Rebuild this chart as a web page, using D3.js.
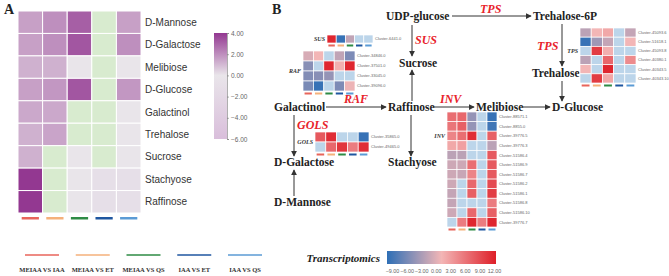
<!DOCTYPE html>
<html>
<head>
<meta charset="utf-8">
<script src="https://cdn.jsdelivr.net/npm/d3@7"></script>
<style>
  body { margin: 0; background: #fff; }
  svg { display: block; }
</style>
</head>
<body>
<svg id="chart"></svg>
<script>
const width = 669;
const height = 276;

// comparison groups (columns of every heatmap)
const groups = ['MEIAA VS IAA', 'MEIAA VS ET', 'MEIAA VS QS', 'IAA VS ET', 'IAA VS QS'];
const groupColors = ['#e8655b', '#f5b17b', '#2e8b45', '#1f56a0', '#5b9bd5'];

// panel A - metabolites
const metabolites = ['D-Mannose', 'D-Galactose', 'Melibiose', 'D-Glucose', 'Galactinol', 'Trehalose', 'Sucrose', 'Stachyose', 'Raffinose'];
const metaboValues = [
    [1.6, 2.0, 3.1, null, 1.6],
    [1.6, 2.0, 3.3, null, 2.0],
    [1.2, 1.2, 0, null, 0],
    [1.6, 1.8, 3.3, null, 1.8],
    [1.4, 1.4, null, null, 0],
    [1.2, 1.5, null, null, 0],
    [1.2, null, 0, null, 0],
    [4.0, null, 0, -1, -1],
    [4.0, null, 0, -1, -1]
];
const metaboTicks = [4, 2, 0, -2, -4, -6];

// panel B - transcript clusters
const susRows = ['Cluster-6441.0'];
const susValues = [[11.5, -8.5, -1.2, null, null]];

const rafRows = ['Cluster-34846.0', 'Cluster-37501.0', 'Cluster-33045.0', 'Cluster-39096.0'];
const rafValues = [
    [0, 1.5, null, -1.2, -4.8],
    [-4.2, null, 11.5, 2, 11.5],
    [-4.5, -4.2, -3.5, null, null],
    [-5, -8.5, null, -4.8, 1.2]
];

const golsRows = ['Cluster-35865.0', 'Cluster-49465.0'];
const golsValues = [
    [8, 11, null, null, -8.5],
    [null, 7, 10.5, 5.5, 11]
];

const tpsRows = ['Cluster-45093.6', 'Cluster-51618.1', 'Cluster-45093.8', 'Cluster-40380.1', 'Cluster-40343.5', 'Cluster-40343.10'];
const tpsValues = [
    [-1.5, 1.5, 2.5, null, -1],
    [-8.5, -3, -1, null, 1.5],
    [null, 10, 2, null, null],
    [-1.5, null, 7, null, 4.5],
    [1.5, null, 11.5, null, null],
    [null, 10, 2.5, null, null]
];

const invRows = ['Cluster-88571.1', 'Cluster-8855.0', 'Cluster-39776.5', 'Cluster-39776.3', 'Cluster-51586.4', 'Cluster-51586.9',
    'Cluster-51586.7', 'Cluster-51586.2', 'Cluster-51586.1', 'Cluster-51586.8', 'Cluster-51586.10', 'Cluster-39776.7'];
const invValues = [
    [6.5, 7, -3.5, null, -8.5],
    [6, 7.5, -3.5, null, -8],
    [5, 6.5, 11, null, 7.5],
    [2.5, 3, null, null, -1.5],
    [-1.5, -1.5, null, null, 8],
    [-0.5, -0.5, 6.5, null, 8],
    [-0.5, -0.8, 5, null, 8],
    [-0.5, null, 7, null, 9],
    [-1, null, 7.5, null, 10],
    [-1, null, null, null, 5.5],
    [-0.5, null, 7, null, 7.5],
    [null, 5.5, 11.5, 5.5, 11.5]
];
const transTicks = [-9, -6, -3, 0, 3, 6, 9, 12];

const svg = d3.select('#chart').attr('width', width).attr('height', height);

const serif = 'Liberation Serif, Times New Roman, serif';
const sans = 'Liberation Sans, Arial, sans-serif';

const metaboColor = d3.scaleLinear().domain([-6, 0, 4]).range(['#d9bedb', '#e9e5ea', '#933891']);
const transColor = d3.scaleLinear().domain([-9, 1.5, 12]).range(['#2e6fb6', '#f3b6b6', '#de1f28']);

// generic heatmap with column colour bars under it
function heatmap(opts) {
    const g = svg.append('g');
    const x = d3.scaleBand().domain(groups).range([opts.x0, opts.x1]);
    const y = d3.scaleBand().domain(opts.rows).range([opts.y0, opts.y1]);
    const cells = [];
    opts.values.forEach((row, i) => row.forEach((v, j) => cells.push({ r: opts.rows[i], c: groups[j], v })));

    g.selectAll('rect.cell')
        .data(cells)
        .enter()
        .append('rect')
        .attr('class', 'cell')
        .attr('x', d => x(d.c))
        .attr('y', d => y(d.r))
        .attr('width', x.bandwidth())
        .attr('height', y.bandwidth())
        .attr('fill', d => d.v === null ? opts.na : opts.color(d.v))
        .attr('stroke', '#fff')
        .attr('stroke-width', opts.stroke || 0.7);

    g.selectAll('rect.bar')
        .data(groups)
        .enter()
        .append('rect')
        .attr('class', 'bar')
        .attr('x', d => x(d) + x.bandwidth() * 0.15)
        .attr('y', opts.y1 + opts.barGap)
        .attr('width', x.bandwidth() * 0.7)
        .attr('height', opts.barH)
        .attr('fill', (d, i) => groupColors[i]);

    g.selectAll('text.lab')
        .data(opts.rows)
        .enter()
        .append('text')
        .attr('class', 'lab')
        .attr('x', opts.x1 + opts.labGap)
        .attr('y', d => y(d) + y.bandwidth() / 2)
        .attr('dy', '0.35em')
        .attr('font-family', sans)
        .attr('font-size', opts.labSize)
        .attr('fill', opts.labColor || '#666')
        .text(d => d);

    if (opts.name) {
        const nameRow = opts.nameRow === undefined ? null : opts.rows[opts.nameRow];
        g.append('text')
            .attr('x', opts.x0 - 2)
            .attr('y', nameRow ? y(nameRow) + y.bandwidth() / 2 : (opts.y0 + opts.y1) / 2)
            .attr('dy', '0.35em')
            .attr('text-anchor', 'end')
            .attr('font-family', serif)
            .attr('font-style', 'italic')
            .attr('font-weight', 'bold')
            .attr('font-size', 6)
            .attr('fill', '#333')
            .text(opts.name);
    }
    return g;
}

// ---------- Panel A ----------
svg.append('text').attr('x', 4).attr('y', 14)
    .attr('font-family', serif).attr('font-weight', 'bold').attr('font-size', 14).attr('fill', '#222').text('A');

heatmap({
    rows: metabolites, values: metaboValues, color: metaboColor, na: '#d8ebcf',
    x0: 18, x1: 141, y0: 11, y1: 213, stroke: 1,
    barGap: 4, barH: 2.5, labGap: 4, labSize: 10, labColor: '#333'
});

// colour bar A
const defs = svg.append('defs');
const gradA = defs.append('linearGradient').attr('id', 'gradA').attr('x1', 0).attr('x2', 0).attr('y1', 1).attr('y2', 0);
metaboColor.domain().forEach(v => {
    gradA.append('stop').attr('offset', (v + 6) / 10).attr('stop-color', metaboColor(v));
});
const cbA = d3.scaleLinear().domain([-6, 4]).range([139, 33]);
svg.append('rect').attr('x', 214).attr('y', cbA(4)).attr('width', 13).attr('height', cbA(-6) - cbA(4)).attr('fill', 'url(#gradA)');
const axA = svg.append('g').attr('transform', 'translate(227,0)')
    .call(d3.axisRight(cbA).tickValues(metaboTicks).tickSize(2).tickFormat(d3.format('.2f')));
axA.select('.domain').attr('stroke', '#777').attr('stroke-width', 0.6);
axA.selectAll('.tick line').attr('stroke', '#777').attr('stroke-width', 0.6);
axA.selectAll('text').attr('font-family', sans).attr('font-size', 6.5).attr('fill', '#666').attr('x', 4);

// legend A
const legX = d3.scalePoint().domain(groups).range([42, 245]);
const leg = svg.append('g');
leg.selectAll('line').data(groups).enter().append('line')
    .attr('x1', d => legX(d) - 17).attr('x2', d => legX(d) + 17)
    .attr('y1', 255).attr('y2', 255)
    .attr('stroke', (d, i) => groupColors[i]).attr('stroke-width', 1.6);
leg.selectAll('text').data(groups).enter().append('text')
    .attr('x', d => legX(d)).attr('y', 272)
    .attr('text-anchor', 'middle')
    .attr('font-family', serif).attr('font-weight', 'bold').attr('font-size', 6.5).attr('fill', '#333')
    .text(d => d);

// ---------- Panel B ----------
svg.append('text').attr('x', 272).attr('y', 14)
    .attr('font-family', serif).attr('font-weight', 'bold').attr('font-size', 14).attr('fill', '#222').text('B');

defs.append('marker').attr('id', 'arr').attr('viewBox', '0 0 8 8').attr('refX', 7).attr('refY', 4)
    .attr('markerWidth', 6).attr('markerHeight', 6).attr('orient', 'auto').attr('markerUnits', 'userSpaceOnUse')
    .append('path').attr('d', 'M0,0 L8,4 L0,8 z').attr('fill', '#333');

const nodes = [
    { t: 'UDP-glucose', x: 386, y: 20 },
    { t: 'Trehalose-6P', x: 533, y: 20 },
    { t: 'Sucrose', x: 399, y: 67 },
    { t: 'Trehalose', x: 532, y: 77 },
    { t: 'Galactinol', x: 274, y: 111 },
    { t: 'Raffinose', x: 388, y: 111 },
    { t: 'Melibiose', x: 476, y: 111 },
    { t: 'D-Glucose', x: 552, y: 111 },
    { t: 'D-Galactose', x: 274, y: 166 },
    { t: 'Stachyose', x: 388, y: 166 },
    { t: 'D-Mannose', x: 274, y: 206 }
];
svg.append('g').selectAll('text').data(nodes).enter().append('text')
    .attr('x', d => d.x).attr('y', d => d.y)
    .attr('font-family', serif).attr('font-weight', 'bold').attr('font-size', 11.5).attr('fill', '#222')
    .text(d => d.t);

const arrows = [
    [452, 16, 531, 16], [412, 25, 412, 56], [412, 101, 412, 70], [326, 107, 386, 107],
    [433, 107, 474, 107], [522, 107, 550, 107], [562, 24, 562, 66], [562, 81, 562, 101],
    [294, 115, 294, 156], [294, 196, 294, 170], [411, 115, 411, 156]
];
svg.append('g').selectAll('line').data(arrows).enter().append('line')
    .attr('x1', d => d[0]).attr('y1', d => d[1]).attr('x2', d => d[2]).attr('y2', d => d[3])
    .attr('stroke', '#333').attr('stroke-width', 1).attr('marker-end', 'url(#arr)');

const enzymes = [
    { t: 'TPS', x: 480, y: 13 }, { t: 'SUS', x: 415, y: 44 }, { t: 'RAF', x: 344, y: 103 },
    { t: 'INV', x: 440, y: 103 }, { t: 'GOLS', x: 297, y: 129 }, { t: 'TPS', x: 537, y: 50 }
];
svg.append('g').selectAll('text').data(enzymes).enter().append('text')
    .attr('x', d => d.x).attr('y', d => d.y)
    .attr('font-family', serif).attr('font-weight', 'bold').attr('font-style', 'italic').attr('font-size', 12)
    .attr('fill', '#e8232b')
    .text(d => d.t);

const heatB = { color: transColor, na: '#bcd5ea', barGap: 1.5, barH: 2, labGap: 2, labSize: 4 };
heatmap(Object.assign({ rows: susRows, values: susValues, x0: 327, x1: 373, y0: 35, y1: 43, name: 'SUS' }, heatB));
heatmap(Object.assign({ rows: rafRows, values: rafValues, x0: 303, x1: 355, y0: 51, y1: 91, name: 'RAF' }, heatB));
heatmap(Object.assign({ rows: golsRows, values: golsValues, x0: 315, x1: 369, y0: 132, y1: 152, name: 'GOLS' }, heatB));
heatmap(Object.assign({ rows: tpsRows, values: tpsValues, x0: 580, x1: 636, y0: 28, y1: 83, name: 'TPS', nameRow: 2 }, heatB));
heatmap(Object.assign({ rows: invRows, values: invValues, x0: 447, x1: 497, y0: 112, y1: 227, name: 'INV', nameRow: 2 }, heatB));

// colour bar B
const gradB = defs.append('linearGradient').attr('id', 'gradB');
transColor.domain().forEach(v => {
    gradB.append('stop').attr('offset', (v + 9) / 21).attr('stop-color', transColor(v));
});
svg.append('rect').attr('x', 387).attr('y', 251).attr('width', 109).attr('height', 13).attr('fill', 'url(#gradB)');
const cbB = d3.scaleLinear().domain([-9, 12]).range([392, 494]);
const axB = svg.append('g').attr('transform', 'translate(0,266)')
    .call(d3.axisBottom(cbB).tickValues(transTicks).tickSize(0).tickFormat(d3.format('.2f')));
axB.select('.domain').remove();
axB.selectAll('text').attr('font-family', sans).attr('font-size', 5.4).attr('fill', '#666').attr('dy', '0.71em');

svg.append('text').attr('x', 380).attr('y', 262).attr('text-anchor', 'end')
    .attr('font-family', serif).attr('font-weight', 'bold').attr('font-style', 'italic').attr('font-size', 11)
    .attr('fill', '#222').text('Transcriptomics');
</script>
</body>
</html>
